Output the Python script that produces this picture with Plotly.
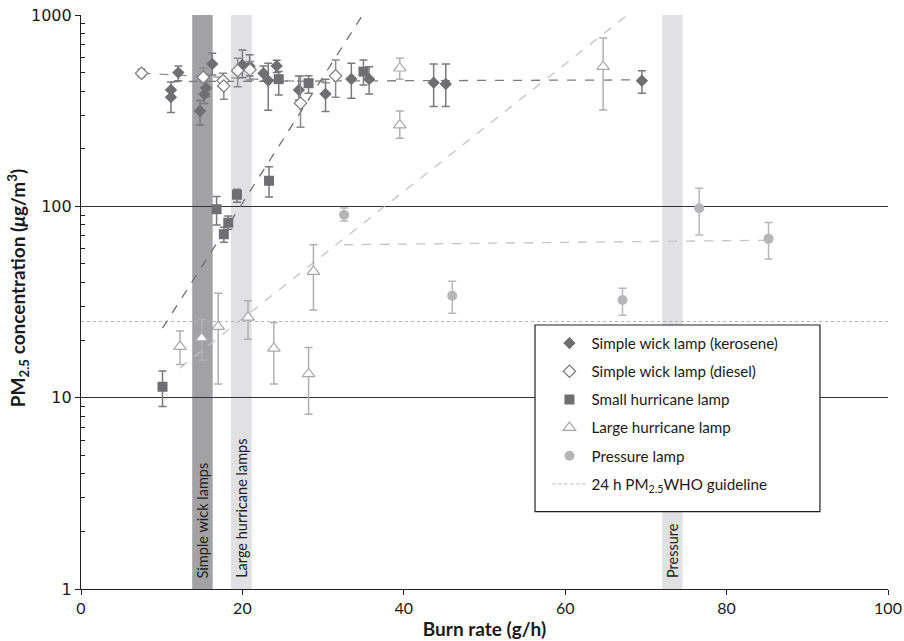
import plotly.graph_objects as go

# ---------------- data ----------------
# Simple wick lamp (kerosene)
ker_x = [11.15, 11.15, 12.06, 14.75, 15.5, 15.3, 16.27, 20.0, 20.9, 22.6, 23.2, 24.25, 27.0, 30.3, 33.5, 35.7, 43.7, 45.2, 69.5]
ker_y = [406, 372, 500, 315, 415, 385, 555, 548, 540, 496, 454, 542, 406, 387, 463, 462, 443, 436, 453]
ker_hi = [447, 406, 542, 357, 470, 420, 631, 657, 620, 542, 560, 580, 480, 462, 560, 537, 555, 555, 512]
ker_lo = [372, 309, 453, 266, 375, 345, 486, 470, 480, 450, 318, 500, 360, 313, 367, 387, 332, 332, 390]

# Simple wick lamp (diesel)
die_x = [7.5, 15.15, 17.6, 17.7, 19.41, 20.94, 27.2, 31.55]
die_y = [496, 473, 454, 426, 512, 517, 346, 481]
die_hi = [520, 528, 496, 454, 595, 571, 480, 582]
die_lo = [475, 449, 426, 363, 422, 458, 259, 372]

# Small hurricane lamp
shl_x = [10.1, 16.8, 17.7, 18.25, 19.33, 23.3, 24.5, 28.2, 35.0]
shl_y = [11.4, 96.6, 71.5, 82.2, 115, 136, 462, 440, 506]
shl_hi = [13.8, 112.4, 77.8, 89.1, 123, 161, 506, 481, 582]
shl_lo = [9.0, 80, 64.9, 75.9, 105, 112, 382, 390, 431]

# Large hurricane lamp
lhl_x = [12.27, 14.95, 17.0, 20.7, 23.9, 28.2, 28.8, 39.5, 39.5, 64.7]
lhl_y = [18.5, 20.5, 23.5, 26.3, 18.1, 13.3, 45.6, 527, 266, 537]
lhl_hi = [22.3, 25.7, 35.1, 32.1, 24.7, 18.3, 63, 595, 315, 759]
lhl_lo = [14.9, 15.7, 11.8, 20.2, 11.8, 8.2, 28.7, 462, 227, 319]

# Pressure lamp
prs_x = [32.6, 46.0, 67.1, 76.6, 85.2]
prs_y = [90.2, 34.1, 32.4, 97.7, 67.6]
prs_hi = [98.1, 40.6, 37.3, 124.4, 82.2]
prs_lo = [83.9, 27.6, 27.0, 70.9, 53.1]

# Trend lines (end points)
ker_trend_x = [11.15, 69.5]
ker_trend_y = [449, 458]
die_trend_x = [7.5, 31.55]
die_trend_y = [496, 440]
shl_trend_x = [10.1, 34.9]
shl_trend_y = [23.1, 1000]
lhl_trend_x = [12.27, 67.7]
lhl_trend_y = [14.3, 1000]
prs_trend_x = [32.6, 85.2]
prs_trend_y = [63, 66.5]

# WHO guideline
who_x = [0, 100]
who_y = [25, 25]

# Shaded bands
band_x0 = [13.78, 18.59, 72.03]
band_x1 = [16.32, 21.15, 74.56]
band_labels = ["Simple wick lamps", "Large hurricane lamps", "Pressure"]
band_colors = ["#a2a2a5", "#e1e1e3", "#e1e1e3"]

x_ticks = [0, 20, 40, 60, 80, 100]
y_ticks = [1, 10, 100, 1000]
y_ticktext = ["1", "10", "100", "1000"]

# ---------------- figure ----------------
fig = go.Figure()

def errs(y, hi, lo):
    return [h - v for v, h in zip(y, hi)], [v - l for v, l in zip(y, lo)]

# WHO line
fig.add_trace(go.Scatter(x=who_x, y=who_y, mode="lines",
                         line=dict(color="#b5b5b5", width=1, dash="dot"),
                         name="24 h PM<sub>2.5</sub>WHO guideline",
                         legendgroup="g6", legendrank=6))

# trend lines
for tx, ty, col in [(ker_trend_x, ker_trend_y, "#7c7c7e"),
                    (die_trend_x, die_trend_y, "#8c8c8e"),
                    (shl_trend_x, shl_trend_y, "#6e6e70"),
                    (lhl_trend_x, lhl_trend_y, "#c4c4c6"),
                    (prs_trend_x, prs_trend_y, "#c4c4c6")]:
    fig.add_trace(go.Scatter(x=tx, y=ty, mode="lines",
                             line=dict(color=col, width=1.3, dash="dash"),
                             showlegend=False, hoverinfo="skip"))

series = [
    ("Simple wick lamp (kerosene)", ker_x, ker_y, ker_hi, ker_lo,
     dict(symbol="diamond", size=9.5, color="#6f6f71", line=dict(width=0)), "#7a7a7c", "g1", 1),
    ("Simple wick lamp (diesel)", die_x, die_y, die_hi, die_lo,
     dict(symbol="diamond", size=9.5, color="white", line=dict(width=1.2, color="#7a7a7c")), "#8a8a8c", "g2", 2),
    ("Small hurricane lamp", shl_x, shl_y, shl_hi, shl_lo,
     dict(symbol="square", size=10, color="#6f6f71", line=dict(width=0)), "#7a7a7c", "g3", 3),
    ("Large hurricane lamp", lhl_x, lhl_y, lhl_hi, lhl_lo,
     dict(symbol="triangle-up", size=11, color="white", line=dict(width=1.2, color="#a9a9ab")), "#b0b0b2", "g4", 4),
    ("Pressure lamp", prs_x, prs_y, prs_hi, prs_lo,
     dict(symbol="circle", size=10, color="#b6b6b8", line=dict(width=0)), "#b8b8ba", "g5", 5),
]
for name, xs, ys, hi, lo, mk, ecol, grp, rank in series:
    ep, em = errs(ys, hi, lo)
    fig.add_trace(go.Scatter(
        x=xs, y=ys, mode="markers", name=name, marker=mk,
        error_y=dict(type="data", symmetric=False, array=ep, arrayminus=em,
                     color=ecol, thickness=1.5, width=4),
        legendgroup=grp, legendrank=rank))

shapes = []
annotations = []
for x0, x1, lab, col in zip(band_x0, band_x1, band_labels, band_colors):
    shapes.append(dict(type="rect", xref="x", yref="paper", x0=x0, x1=x1, y0=0, y1=1,
                       fillcolor=col, line=dict(width=0), layer="between"))
    annotations.append(dict(x=(x0 + x1) / 2, y=0, xref="x", yref="y", text=lab,
                            textangle=-90, showarrow=False, xanchor="center", yanchor="bottom",
                            yshift=9, font=dict(family="Lato", size=14.5, color="#222")))

# y-axis title
annotations.append(dict(x=-0.078, y=0.524, xref="paper", yref="paper", textangle=-90,
                        showarrow=False, xanchor="center", yanchor="middle",
                        text="<b>PM<sub>2.5</sub> concentration (<i>μ</i>g/m<sup>3</sup>)</b>",
                        font=dict(family="Lato", size=19, color="#1a1a1a")))

# legend box
shapes.append(dict(type="rect", xref="paper", yref="paper",
                   x0=0.5626, x1=0.9157, y0=0.1347, y1=0.4599,
                   fillcolor="white", line=dict(color="#222", width=1.2), layer="above"))

fig.update_layout(
    width=904, height=641,
    margin=dict(l=81, r=16, t=15, b=52),
    paper_bgcolor="white", plot_bgcolor="white",
    shapes=shapes, annotations=annotations,
    legend=dict(x=0.578, y=0.457, xanchor="left", yanchor="top", itemwidth=34,
                bgcolor="rgba(0,0,0,0)", borderwidth=0, tracegroupgap=5.4,
                font=dict(family="Lato", size=15.2, color="#1a1a1a")),
    font=dict(family="Lato", color="#1a1a1a"),
)

fig.update_xaxes(range=[0, 100], tickvals=x_ticks, ticks="outside", ticklen=5,
                 tickcolor="#222", showline=True, linecolor="#222", linewidth=1.2,
                 showgrid=False, zeroline=False, automargin=False, ticklabelstandoff=0,
                 tickfont=dict(family="Lato", size=16, color="#1a1a1a"),
                 title=dict(text="<b>Burn rate (g/h)</b>", standoff=6,
                            font=dict(family="Lato", size=19, color="#1a1a1a")))

minor_vals = [m * d for d in (1, 10, 100) for m in range(2, 10)]
fig.update_yaxes(type="log", range=[0, 3], tickvals=y_ticks, ticktext=y_ticktext,
                 ticks="outside", ticklen=5, tickcolor="#222",
                 showline=True, linecolor="#222", linewidth=1.2,
                 showgrid=True, gridcolor="#333", gridwidth=1.4, zeroline=False, automargin=False,
                 minor=dict(tickvals=minor_vals, ticks="inside", ticklen=4, tickcolor="#222", showgrid=False),
                 tickfont=dict(family="DejaVu Sans", size=16, color="#1a1a1a"))

fig.write_html("out.html")
